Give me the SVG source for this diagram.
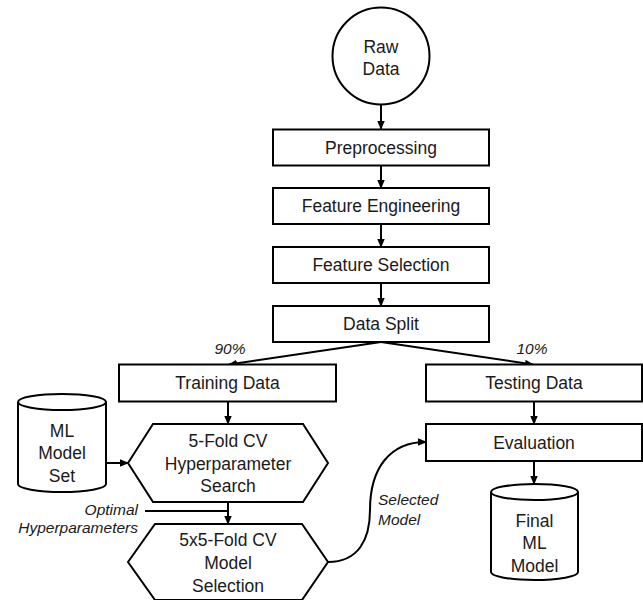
<svg xmlns="http://www.w3.org/2000/svg" width="643" height="600" viewBox="0 0 643 600">
<style>
.n{fill:#fff;stroke:#000;stroke-width:2}
.t{font-family:"Liberation Sans",Arial,sans-serif;font-size:17.5px;fill:#1a1a1a;text-anchor:middle}
.i{font-family:"Liberation Sans",Arial,sans-serif;font-size:15.5px;font-style:italic;fill:#1a1a1a}
.c{fill:none;stroke:#000;stroke-width:2}
</style>
<defs>
<marker id="a" markerWidth="9" markerHeight="9" refX="8" refY="4.5" orient="auto" markerUnits="userSpaceOnUse">
<path d="M0,0.8 L9,4.5 L0,8.2 z" fill="#000"/>
</marker>
</defs>
<rect width="643" height="600" fill="#fff"/>
<g id="connectors">
<path class="c" d="M381,104.5 V129" marker-end="url(#a)"/>
<path class="c" d="M381,165.5 V188" marker-end="url(#a)"/>
<path class="c" d="M381,224 V247" marker-end="url(#a)"/>
<path class="c" d="M381,283 V306" marker-end="url(#a)"/>
<path class="c" d="M381,342 L229,364.5" marker-end="url(#a)"/>
<path class="c" d="M381,342 L533,364.5" marker-end="url(#a)"/>
<path class="c" d="M228,401.5 V424" marker-end="url(#a)"/>
<path class="c" d="M106,463 H128" marker-end="url(#a)"/>
<path class="c" d="M228,502 V524" marker-end="url(#a)"/>
<path class="c" d="M145,511 H228"/>
<path class="c" d="M534,401.5 V424" marker-end="url(#a)"/>
<path class="c" d="M534,461 V484" marker-end="url(#a)"/>
<path class="c" d="M328,562 C358,562 370,540 370,510 C370,468 390,442 426,442" marker-end="url(#a)"/>
<text class="i" x="230" y="354" text-anchor="middle">90%</text>
<text class="i" x="532" y="354" text-anchor="middle">10%</text>
<text class="i" x="138" y="515" text-anchor="end">Optimal</text>
<text class="i" x="138" y="533" text-anchor="end">Hyperparameters</text>
<text class="i" x="378" y="505">Selected</text>
<text class="i" x="378" y="525">Model</text>
</g>
<g id="raw-data">
<circle class="n" cx="381" cy="56" r="48.5"/>
<text class="t" x="381" y="53">Raw</text>
<text class="t" x="381" y="75">Data</text>
</g>
<g id="preprocessing">
<rect class="n" x="273" y="129.5" width="216" height="36"/>
<text class="t" x="381" y="153.5">Preprocessing</text>
</g>
<g id="feature-engineering">
<rect class="n" x="273" y="188" width="216" height="36"/>
<text class="t" x="381" y="212">Feature Engineering</text>
</g>
<g id="feature-selection">
<rect class="n" x="273" y="247" width="216" height="36"/>
<text class="t" x="381" y="271">Feature Selection</text>
</g>
<g id="data-split">
<rect class="n" x="273" y="306" width="216" height="36"/>
<text class="t" x="381" y="330">Data Split</text>
</g>
<g id="training-data">
<rect class="n" x="119" y="364.5" width="217" height="37"/>
<text class="t" x="227.5" y="389">Training Data</text>
</g>
<g id="testing-data">
<rect class="n" x="426" y="364.5" width="216" height="37"/>
<text class="t" x="534" y="389">Testing Data</text>
</g>
<g id="evaluation">
<rect class="n" x="426" y="424" width="216" height="37"/>
<text class="t" x="534" y="449">Evaluation</text>
</g>
<g id="ml-model-set">
<path class="n" d="M18,402 V484 A44,8 0 0 0 106,484 V402"/>
<ellipse class="n" cx="62" cy="402" rx="44" ry="8"/>
<text class="t" x="62" y="437">ML</text>
<text class="t" x="62" y="459">Model</text>
<text class="t" x="62" y="482">Set</text>
</g>
<g id="hyperparameter-search">
<polygon class="n" points="128,463 153,424 303,424 328,463 303,502 153,502"/>
<text class="t" x="228" y="447">5-Fold CV</text>
<text class="t" x="228" y="470">Hyperparameter</text>
<text class="t" x="228" y="492">Search</text>
</g>
<g id="model-selection">
<polygon class="n" points="128,562 155,524 302,524 328,562 302,600 155,600"/>
<text class="t" x="228" y="546">5x5-Fold CV</text>
<text class="t" x="228" y="569">Model</text>
<text class="t" x="228" y="592">Selection</text>
</g>
<g id="final-ml-model">
<path class="n" d="M491,492 V572 A43.5,8 0 0 0 578,572 V492"/>
<ellipse class="n" cx="534.5" cy="492" rx="43.5" ry="8"/>
<text class="t" x="534.5" y="527">Final</text>
<text class="t" x="534.5" y="549">ML</text>
<text class="t" x="534.5" y="572">Model</text>
</g>
</svg>
